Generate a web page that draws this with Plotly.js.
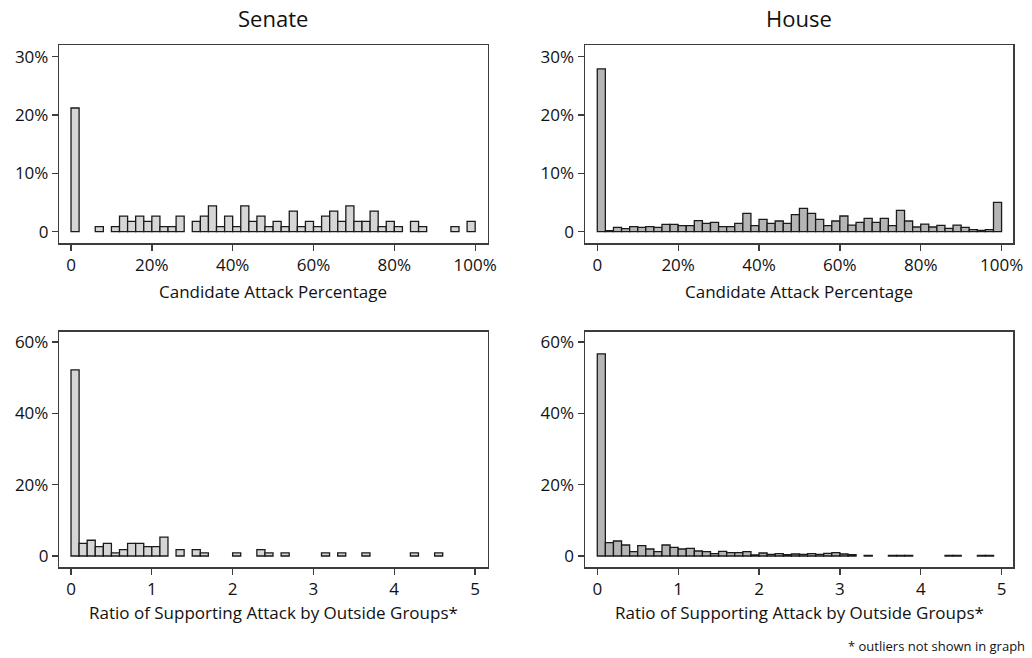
<!DOCTYPE html>
<html><head><meta charset="utf-8">
<script src="https://cdn.plot.ly/plotly-3.0.1.min.js"></script>
<style>html,body{margin:0;padding:0;background:#fff}#chart{width:1032px;height:658px}</style>
</head><body><div id="chart"></div>
<script>
// Histogram heights (percent of races) per bin; null = empty bin
const senateAttackPct = [21.2, null, null, 0.88, null, 0.88, 2.65, 1.77, 2.65, 1.77,
  2.65, 0.88, 0.88, 2.65, null, 1.77, 2.65, 4.42, 0.88, 2.65,
  0.88, 4.42, 1.77, 2.65, 0.88, 1.77, 0.88, 3.54, 0.88, 1.77,
  0.88, 2.65, 3.54, 1.77, 4.42, 1.77, 1.77, 3.54, 0.88, 1.77,
  0.88, null, 1.77, 0.88, null, null, null, 0.88, null, 1.77];
const houseAttackPct = [27.9, 0.17, 0.74, 0.51, 0.86, 0.74, 0.86, 0.74, 1.26, 1.26,
  1.03, 1.03, 1.89, 1.43, 1.6, 0.86, 0.86, 1.43, 3.14, 1.03,
  2.11, 1.43, 1.83, 1.43, 2.91, 4.0, 3.14, 2.11, 1.03, 1.83,
  2.69, 1.14, 1.6, 2.29, 1.6, 2.29, 1.03, 3.66, 1.83, 0.8,
  1.31, 0.8, 1.09, 0.57, 1.14, 0.74, 0.34, 0.23, 0.34, 5.03];
const senateRatio = [52.2, 3.54, 4.42, 2.65, 3.54, 0.88, 1.77, 3.54, 3.54, 2.65,
  2.65, 5.31, null, 1.77, null, 1.77, 0.88, null, null, null,
  0.88, null, null, 1.77, 0.88, null, 0.88, null, null, null,
  null, 0.88, null, 0.88, null, null, 0.88, null, null, null,
  null, null, 0.88, null, null, 0.88, null, null, null, null];
const houseRatio = [56.7, 3.74, 4.2, 3.08, 1.21, 2.9, 1.96, 1.21, 3.08, 2.43,
  1.96, 2.15, 1.4, 1.21, 0.65, 1.31, 0.93, 0.93, 1.21, 0.28,
  0.84, 0.47, 0.65, 0.37, 0.56, 0.47, 0.65, 0.47, 0.75, 0.93,
  0.56, 0.37, null, 0.19, null, null, 0.19, 0.19, 0.19, null,
  null, null, null, 0.19, 0.19, null, null, 0.19, 0.19, null];

const pctBinWidth = 2;
const ratioBinWidth = 0.1;

const pctTickVals = [0, 20, 40, 60, 80, 100];
const pctTickText = ['0', '20%', '40%', '60%', '80%', '100%'];
const ratioTickVals = [0, 1, 2, 3, 4, 5];
const ratioTickText = ['0', '1', '2', '3', '4', '5'];
const topYTickVals = [0, 10, 20, 30];
const topYTickText = ['0', '10%', '20%', '30%'];
const botYTickVals = [0, 20, 40, 60];
const botYTickText = ['0', '20%', '40%', '60%'];

const panelTitles = ['Senate', 'House'];
const xTitleTop = 'Candidate Attack Percentage';
const xTitleBottom = 'Ratio of Supporting Attack by Outside Groups*';
const footnote = '* outliers not shown in graph';

const FONT = 'Open Sans, sans-serif';
const senateFill = '#d6d6d6';
const houseFill = '#b5b5b5';

function centers(arr, w) { return arr.map((_, i) => i * w + w / 2); }
function barTrace(vals, w, fill, xa, ya) {
  return {
    type: 'bar', x: centers(vals, w), y: vals, width: w,
    xaxis: xa, yaxis: ya, hoverinfo: 'x+y', showlegend: false,
    marker: { color: fill, line: { color: '#1a1a1a', width: 1.3 } }
  };
}

const data = [
  barTrace(senateAttackPct, pctBinWidth, senateFill, 'x', 'y'),
  barTrace(houseAttackPct, pctBinWidth, houseFill, 'x2', 'y2'),
  barTrace(senateRatio, ratioBinWidth, senateFill, 'x3', 'y3'),
  barTrace(houseRatio, ratioBinWidth, houseFill, 'x4', 'y4')
];

const W = 1032, H = 658;
const px = v => v / W, py = v => 1 - v / H;
const leftDom = [px(59.3), px(487.7)];
const rightDom = [px(585), px(1013.3)];
const topDom = [py(243), py(45)];
const botDom = [py(567.3), py(331.7)];

const axBase = {
  showline: true, mirror: true, linecolor: '#3c3c3c', linewidth: 1.5,
  ticks: 'outside', ticklen: 6, tickwidth: 1.3, tickcolor: '#3c3c3c',
  showgrid: false, zeroline: false, fixedrange: true,
  tickfont: { family: FONT, size: 17, color: '#111' }
};
function ax(extra) { return Object.assign({}, axBase, extra); }

const layout = {
  width: W, height: H, margin: { l: 0, r: 0, t: 0, b: 0 },
  paper_bgcolor: '#fff', plot_bgcolor: '#fff', bargap: 0,
  xaxis: ax({ domain: leftDom, anchor: 'y', range: [-2.9, 103.1], tickvals: pctTickVals, ticktext: pctTickText }),
  yaxis: ax({ domain: topDom, anchor: 'x', range: [-1.94, 32.0], tickvals: topYTickVals, ticktext: topYTickText }),
  xaxis2: ax({ domain: rightDom, anchor: 'y2', range: [-3.04, 102.9], tickvals: pctTickVals, ticktext: pctTickText }),
  yaxis2: ax({ domain: topDom, anchor: 'x2', range: [-1.94, 32.0], tickvals: topYTickVals, ticktext: topYTickText }),
  xaxis3: ax({ domain: leftDom, anchor: 'y3', range: [-0.145, 5.157], tickvals: ratioTickVals, ticktext: ratioTickText }),
  yaxis3: ax({ domain: botDom, anchor: 'x3', range: [-3.17, 62.9], tickvals: botYTickVals, ticktext: botYTickText }),
  xaxis4: ax({ domain: rightDom, anchor: 'y4', range: [-0.152, 5.144], tickvals: ratioTickVals, ticktext: ratioTickText }),
  yaxis4: ax({ domain: botDom, anchor: 'x4', range: [-3.17, 62.9], tickvals: botYTickVals, ticktext: botYTickText }),
  annotations: [
    { text: panelTitles[0], x: (leftDom[0] + leftDom[1]) / 2, y: py(18), xref: 'paper', yref: 'paper', showarrow: false, xanchor: 'center', yanchor: 'middle', font: { family: FONT, size: 22, color: '#111' } },
    { text: panelTitles[1], x: (rightDom[0] + rightDom[1]) / 2, y: py(18), xref: 'paper', yref: 'paper', showarrow: false, xanchor: 'center', yanchor: 'middle', font: { family: FONT, size: 22, color: '#111' } },
    { text: xTitleTop, x: (leftDom[0] + leftDom[1]) / 2, y: py(291), xref: 'paper', yref: 'paper', showarrow: false, xanchor: 'center', yanchor: 'middle', font: { family: FONT, size: 17, color: '#111' } },
    { text: xTitleTop, x: (rightDom[0] + rightDom[1]) / 2, y: py(291), xref: 'paper', yref: 'paper', showarrow: false, xanchor: 'center', yanchor: 'middle', font: { family: FONT, size: 17, color: '#111' } },
    { text: xTitleBottom, x: (leftDom[0] + leftDom[1]) / 2, y: py(612), xref: 'paper', yref: 'paper', showarrow: false, xanchor: 'center', yanchor: 'middle', font: { family: FONT, size: 17, color: '#111' } },
    { text: xTitleBottom, x: (rightDom[0] + rightDom[1]) / 2, y: py(612), xref: 'paper', yref: 'paper', showarrow: false, xanchor: 'center', yanchor: 'middle', font: { family: FONT, size: 17, color: '#111' } },
    { text: footnote, x: px(1027), y: py(646), xref: 'paper', yref: 'paper', showarrow: false, xanchor: 'right', yanchor: 'middle', font: { family: FONT, size: 13, color: '#111' } }
  ]
};

Plotly.newPlot('chart', data, layout, { displayModeBar: false, staticPlot: true });
</script>
</body></html>
